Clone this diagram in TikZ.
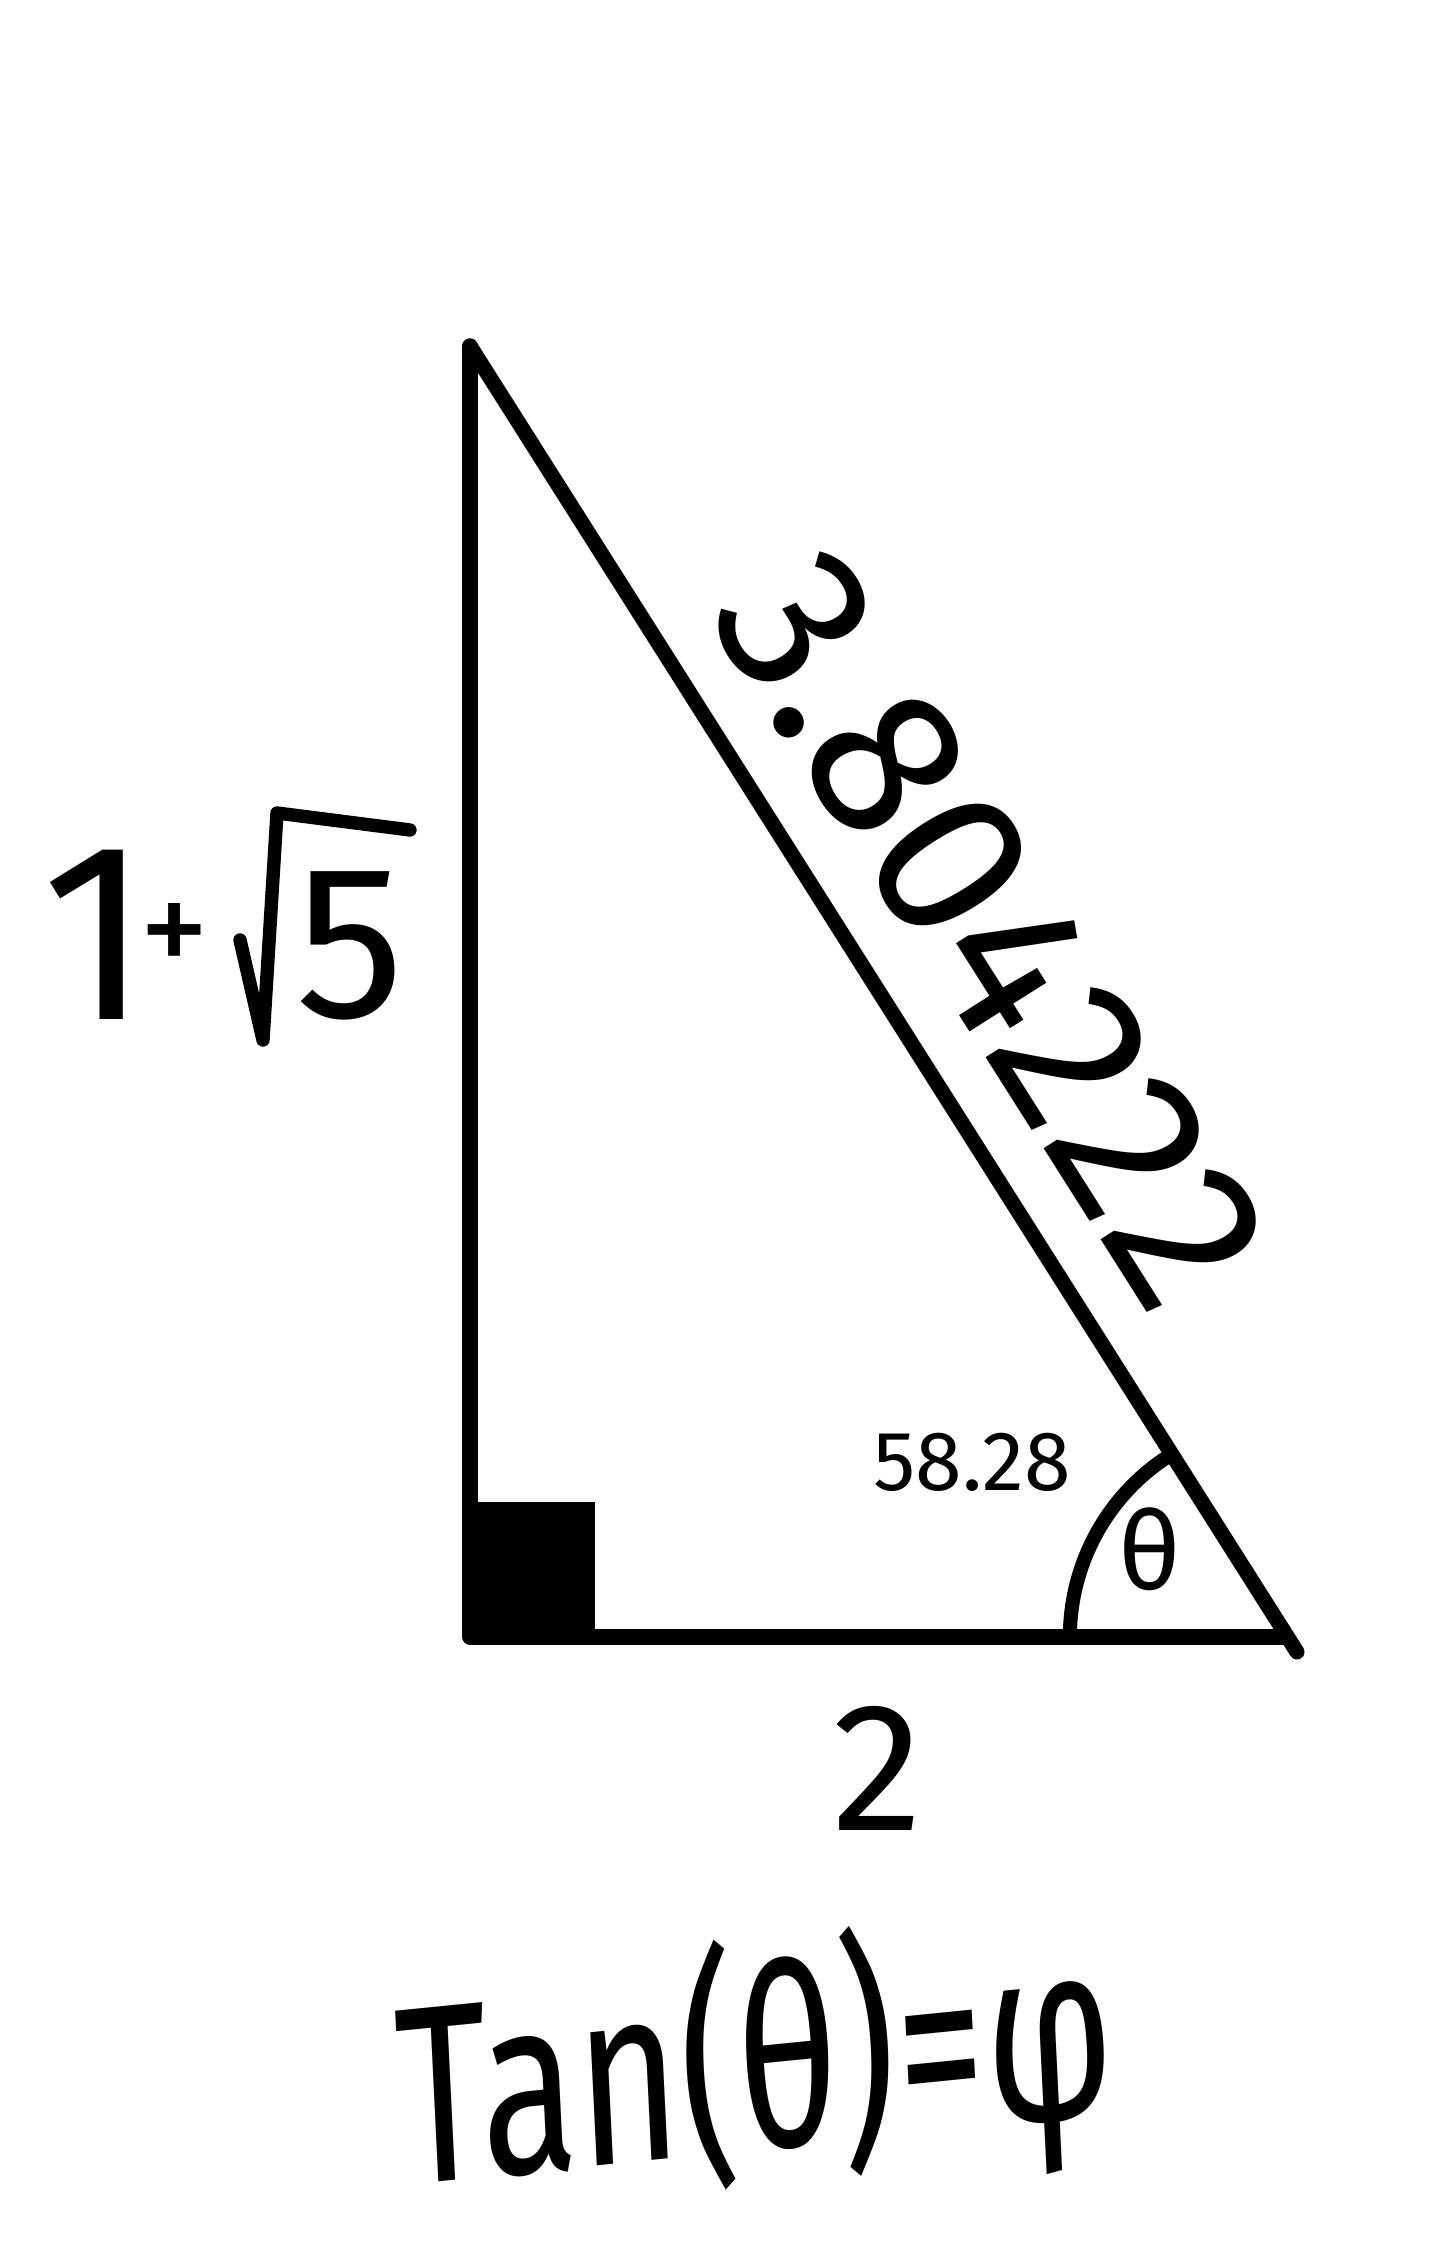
\documentclass[tikz,border=0pt]{standalone}
\usepackage{fontspec}
\setmainfont{Fira Sans}
\usetikzlibrary{positioning}

\begin{document}
\begin{tikzpicture}[x=0.01cm, y=0.01cm,
         side/.style = {line width=4.3pt, line cap=round, line join=round},
         anglearc/.style = {line width=4pt, line cap=round},
         radical/.style = {line width=3.8pt, line cap=round, line join=round},
         lbl/.style = {inner sep=0pt},
]
   \useasboundingbox (0,0) rectangle (1440,2259);

   % corners of the triangle
   \coordinate (top)     at (470,1913);
   \coordinate (corner)  at (470,622);
   \coordinate (baseend) at (1285,622);
   \coordinate (tip)     at (1297,607);

   % right angle
   \fill (corner) rectangle ++(125,135);

   \draw[side] (top) -- (corner)
      -- node[lbl, below=0.62cm, font=\fontsize{52}{56}\selectfont] (base) {2} (baseend);
   \draw[side] (top)
      -- node[lbl, sloped, above=0.45cm, font=\fontsize{62}{66}\selectfont] (hyp) {3.804222} (tip);

   % angle theta
   \draw[anglearc] ([xshift=-2.15cm]baseend)
      arc[start angle=180, end angle=122.3, radius=2.15cm];
   \node[lbl, font=\fontsize{31}{34}\selectfont] (theta) at (1150,710) {θ};
   \node[lbl, font=\fontsize{24}{28}\selectfont] (deg) at (972,797) {58.28};

   % height 1+sqrt5
   \node[lbl, font=\fontsize{72}{76}\selectfont] (one) at (96,1324) {1};
   \node[lbl, font=\fontsize{40}{44}\selectfont] (plus) at (175,1319) {+};
   \node[lbl, font=\fontsize{62}{66}\selectfont] (five) at (350,1313) {5};
   \coordinate (rad1) at (240,1319);
   \coordinate (rad2) at (263,1219);
   \coordinate (rad3) at (277,1446);
   \coordinate (rad4) at (410,1429);
   \draw[radical] (rad1) -- (rad2) -- (rad3) -- (rad4);

   % tan relation
   \node[lbl, font=\fontsize{72}{76}\selectfont, xscale=0.7, rotate=4] (tan) at (756,189) {Tan(θ)=φ};
\end{tikzpicture}
\end{document}
